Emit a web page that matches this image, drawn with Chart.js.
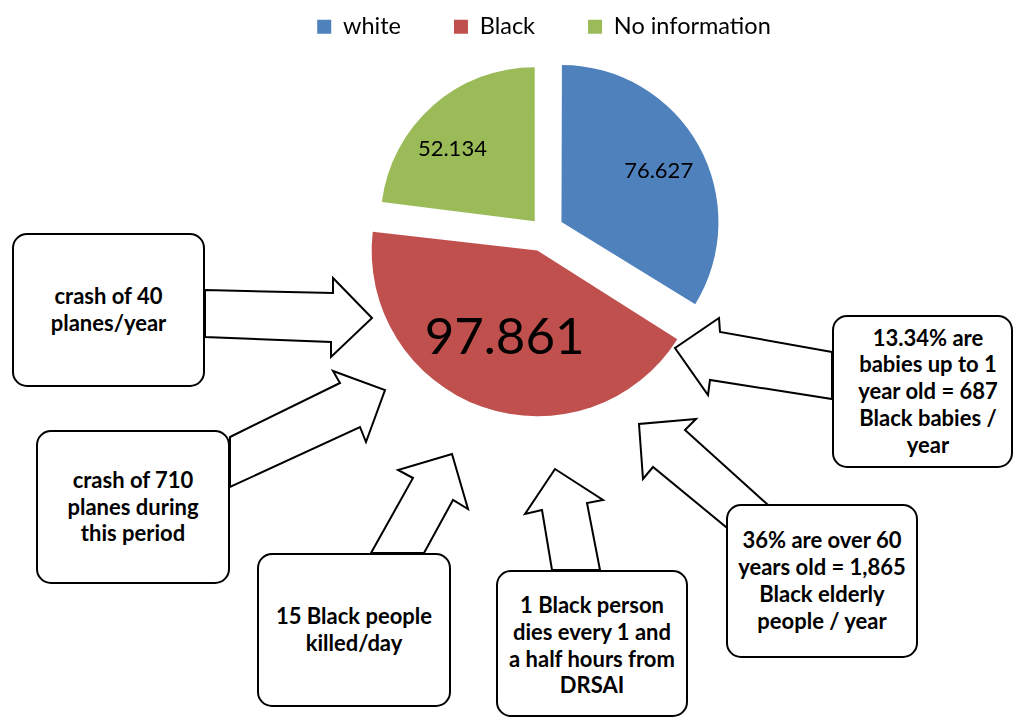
<!DOCTYPE html>
<html>
<head>
<meta charset="utf-8">
<script src="https://cdn.jsdelivr.net/npm/chart.js@4/dist/chart.umd.min.js"></script>
<style>
html,body{margin:0;padding:0;background:#fff;}
#wrap{position:relative;width:1014px;height:720px;overflow:hidden;background:#fff;}
#c{position:absolute;left:0;top:0;}
#arrows{position:absolute;left:0;top:0;}
.box{position:absolute;box-sizing:border-box;border:2px solid #000;border-radius:15px;background:#fff;display:flex;align-items:center;justify-content:center;text-align:center;font-family:Lato,"Open Sans",sans-serif;font-weight:bold;font-size:22px;line-height:26.8px;color:#000;white-space:nowrap;}
</style>
</head>
<body>
<div id="wrap">
<canvas id="c" width="1014" height="720"></canvas>
<svg id="arrows" width="1014" height="720" xmlns="http://www.w3.org/2000/svg">
  <g fill="#fff" stroke="#000" stroke-width="2" stroke-linejoin="miter">
    <polygon points="205,290 333,293 333,278 372,318 331,357 331,342 205,337"/>
    <polygon points="230,437 340,383 333,371 385,390 366,442 360,427 230,487"/>
    <polygon points="371,553 413,478 398,470 452,454 468,509 453,500 424,553"/>
    <polygon points="552,570 542,510 525,514 555,469 603,500 587,503 600,570"/>
    <polygon points="832,352 720,332 719,318 675,348 708,395 710,380 832,399"/>
    <polygon points="767,504 685,430 696,419 639,424 643,479 653,467 726,527"/>
  </g>
</svg>
<div class="box" style="left:12px;top:233px;width:193px;height:154px;">crash of 40<br>planes/year</div>
<div class="box" style="left:36px;top:430px;width:194px;height:154px;">crash of 710<br>planes during<br>this period</div>
<div class="box" style="left:257px;top:553px;width:194px;height:154px;">15 Black people<br>killed/day</div>
<div class="box" style="left:496px;top:570px;width:192px;height:147px;padding-top:4px;">1 Black person<br>dies every 1 and<br>a half hours from<br>DRSAI</div>
<div class="box" style="left:832px;top:315px;width:181px;height:153px;padding-left:11px;">13.34% are<br>babies up to 1<br>year old = 687<br>Black babies /<br>year</div>
<div class="box" style="left:726px;top:504px;width:192px;height:154px;">36% are over 60<br>years old = 1,865<br>Black elderly<br>people / year</div>
</div>
<script>
// ---- data ----
const categories = ["white", "Black", "No information"];
const values = [76.627, 97.861, 52.134];
const valueLabels = values.map(v => v.toFixed(3));
const sliceColors = ["#4F81BD", "#C0504D", "#9BBB59"];
const sliceOffsets = [80, 80, 56];

// ---- slice value labels drawn at positions derived from the arc elements ----
const sliceLabels = {
  id: 'sliceLabels',
  afterDatasetsDraw(chart, args, opts) {
    const ctx = chart.ctx;
    const meta = chart.getDatasetMeta(0);
    meta.data.forEach((arc, i) => {
      const p = arc.getProps(['x', 'y', 'startAngle', 'endAngle', 'outerRadius'], true);
      const mid = (p.startAngle + p.endAngle) / 2;
      const circ = p.endAngle - p.startAngle;
      const shift = (arc.options.offset || 0) / 4;
      const r = p.outerRadius + shift * (1 - Math.sin(Math.min(Math.PI, circ)));
      const cx = p.x + Math.cos(mid) * shift;
      const cy = p.y + Math.sin(mid) * shift;
      const a = mid + opts.angleShift[i] * Math.PI / 180;
      const d = opts.radial[i] * r;
      ctx.save();
      ctx.font = opts.sizes[i] + 'px Lato, "Open Sans", sans-serif';
      ctx.fillStyle = '#000';
      ctx.textAlign = 'center';
      ctx.textBaseline = 'middle';
      ctx.fillText(valueLabels[i], cx + Math.cos(a) * d, cy + Math.sin(a) * d);
      ctx.restore();
    });
  }
};

new Chart(document.getElementById('c'), {
  type: 'pie',
  data: {
    labels: categories,
    datasets: [{
      data: values,
      backgroundColor: sliceColors,
      borderWidth: 0,
      offset: sliceOffsets,
      hoverOffset: 0
    }]
  },
  options: {
    responsive: false,
    animation: false,
    radius: 154,
    layout: { padding: { left: 74, right: 0, top: -38, bottom: 305 } },
    plugins: {
      legend: {
        position: 'top',
        labels: {
          color: '#000',
          font: { family: 'Lato', size: 23.5 },
          boxWidth: 14,
          boxHeight: 14,
          padding: 53
        }
      },
      tooltip: { enabled: false },
      sliceLabels: {
        radial: [0.70, 0.56, 0.71],
        angleShift: [1.3, 1.2, -7.4],
        sizes: [22, 51, 22]
      }
    }
  },
  plugins: [sliceLabels]
});
</script>
</body>
</html>
